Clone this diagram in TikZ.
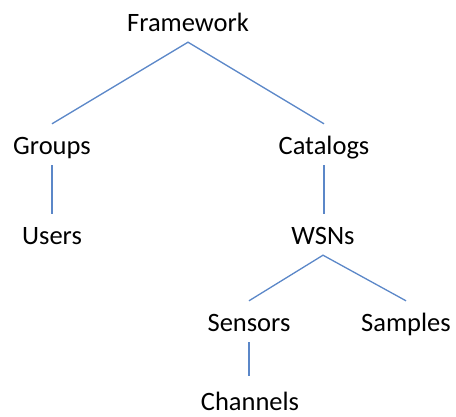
\documentclass[tikz,border=0pt]{standalone}
\usepackage{fontspec}
\setmainfont{Carlito}
\usepackage{xcolor}
\usetikzlibrary{positioning}

\definecolor{linkblue}{RGB}{91,135,200}

\begin{document}
\begin{tikzpicture}[
  x=1pt,y=-1pt,
  item/.style={anchor=base,inner xsep=0pt,inner ysep=4pt,
    text height=27pt,text depth=6pt,font=\fontsize{26.5}{30}\selectfont},
  link/.style={draw=linkblue,line width=1.3pt}
]
  \useasboundingbox (0,0) rectangle (456,417);

  % Nodes
  \node[item] (fw)   at (188,32)  {Framework};
  \node[item] (grp)  at (52,155)  {Groups};
  \node[item] (cat)  at (324,155) {Catalogs};
  \node[item] (usr)  at (52,245)  {Users};
  \node[item] (wsn)  at (323,245) {WSNs};
  \node[item] (sens) at (249,332) {Sensors};
  \node[item] (smp)  at (406,332) {Samples};
  \node[item,text depth=0pt,inner ysep=1pt] (chan) at (250,410) {Channels};

  % Tree links
  \draw[link] (grp.north) -- (fw.south) -- (cat.north);
  \draw[link] (grp.south) -- (grp.south |- usr.north);
  \draw[link] (cat.south) -- (cat.south |- wsn.north);
  \draw[link] (sens.north) -- (wsn.south) -- (smp.north);
  \draw[link] (sens.south) -- ([yshift=6pt]sens.south |- chan.north);
\end{tikzpicture}
\end{document}
